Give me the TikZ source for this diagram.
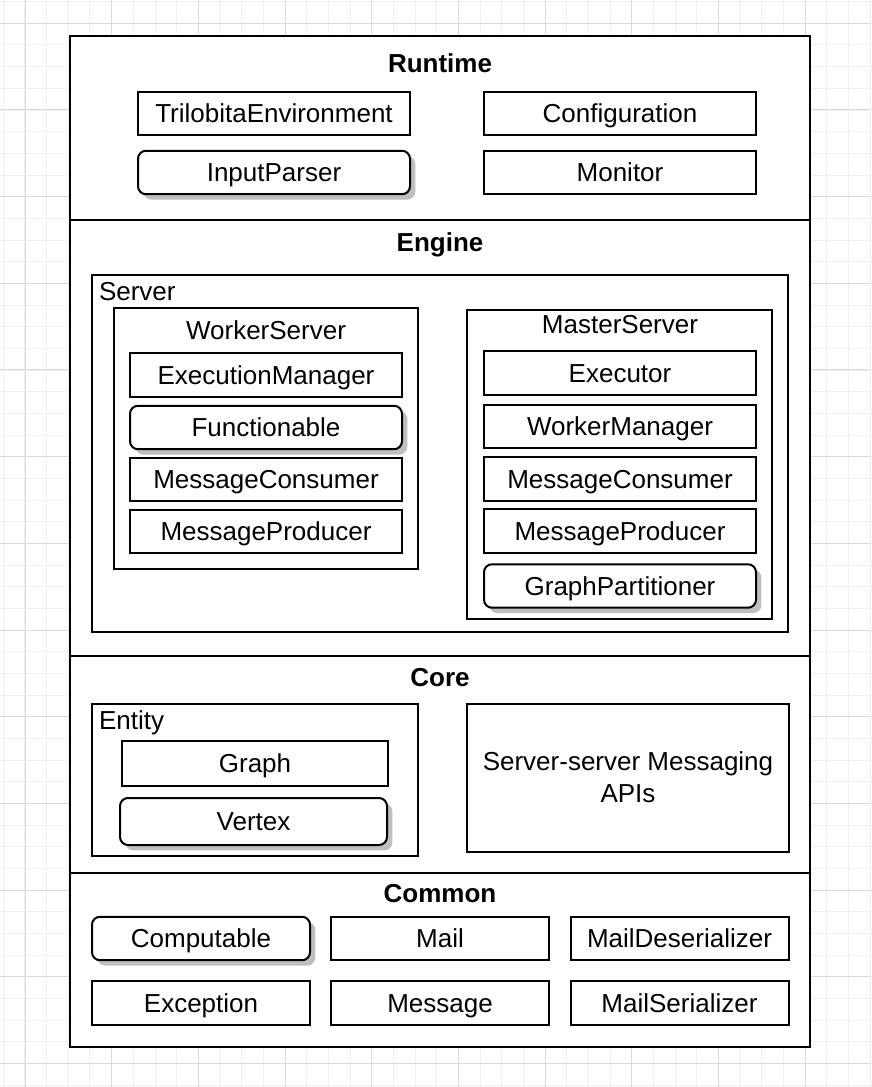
\documentclass[tikz,border=0pt]{standalone}
\usepackage{fontspec}
\setmainfont{Liberation Sans}
\usetikzlibrary{shadows}

\begin{document}
\begin{tikzpicture}[x=0.75pt, y=-0.75pt, line width=1.5pt,
    txt/.style={font=\fontsize{19.5}{23.8}\selectfont, text height=14pt, text depth=0pt, inner sep=0pt},
    title/.style={txt, font=\fontsize{19.5}{23.8}\selectfont\bfseries},
    cls/.style={txt, draw, fill=white, minimum width=204pt, minimum height=32.6pt},
    rcls/.style={cls, rounded corners=6pt, drop shadow={shadow xshift=4pt, shadow yshift=-4pt, fill=black!25, opacity=1}},
    short/.style={minimum width=163.5pt}]
                \useasboundingbox (0,0) rectangle (871,1087);
                \foreach \i in {0,...,40} \draw[black!6, line width=0.75pt] (3.33+21.667*\i,0) -- (3.33+21.667*\i,1087);
                \foreach \i in {0,...,50} \draw[black!6, line width=0.75pt] (0,1.67+21.667*\i) -- (871,1.67+21.667*\i);
                \foreach \i in {0,...,9} \draw[black!14, line width=0.75pt] (25+86.667*\i,0) -- (25+86.667*\i,1087);
                \foreach \i in {0,...,12} \draw[black!14, line width=0.75pt] (0,23.33+86.667*\i) -- (871,23.33+86.667*\i);
                \draw[fill=white] (70,36) rectangle (810,1047);
                \draw (70,220) -- (810,220) (70,656) -- (810,656) (70,873) -- (810,873);
                \node[title] (runtime) at (440,63) {Runtime};
                \node[cls] (trilobitaEnv) at (274,113.5) {TrilobitaEnvironment};
                \node[cls] (configuration) at (620,113.5) {Configuration};
                \node[rcls] (inputParser) at (274,172.5) {InputParser};
                \node[cls] (monitor) at (620,172.5) {Monitor};
                \node[title] (engine) at (440,242) {Engine};
                \draw (92,275) rectangle (788,632);
                \node[txt, anchor=west] (server) at (98,291) {Server};
                \draw (114,308) rectangle (418,569);
                \node[txt] (workerServer) at (266,330) {WorkerServer};
                \node[cls] (executionManager) at (266,375) {ExecutionManager};
                \node[rcls] (functionable) at (266,427.5) {Functionable};
                \node[cls] (workerConsumer) at (266,479.5) {MessageConsumer};
                \node[cls] (workerProducer) at (266,531.5) {MessageProducer};
                \draw (467,310) rectangle (772,619);
                \node[txt] (masterServer) at (620,324) {MasterServer};
                \node[cls] (executor) at (620,373) {Executor};
                \node[cls] (workerManager) at (620,426.5) {WorkerManager};
                \node[cls] (masterConsumer) at (620,479) {MessageConsumer};
                \node[cls] (masterProducer) at (620,531) {MessageProducer};
                \node[rcls] (graphPartitioner) at (620,586) {GraphPartitioner};
                \node[title] (core) at (440,677) {Core};
                \draw (92,704) rectangle (418,856);
                \node[txt, anchor=west] (entity) at (98,720) {Entity};
                \node[cls, minimum width=199.5pt, minimum height=33.75pt] (graph) at (255,763.5) {Graph};
                \node[rcls, minimum width=200.25pt, minimum height=35.25pt] (vertex) at (253.5,821.5) {Vertex};
                \node[draw, align=center, inner sep=0pt, font=\fontsize{19.5}{23.8}\selectfont, minimum width=241.5pt, minimum height=111pt] (messagingApis) at (628,777.5) {Server-server Messaging\\APIs};
                \node[title] (common) at (440,893) {Common};
                \node[rcls, short] (computable) at (201,938.5) {Computable};
                \node[cls, short] (mail) at (440,938.5) {Mail};
                \node[cls, short] (mailDeserializer) at (679.5,938.5) {MailDeserializer};
                \node[cls, short] (exception) at (201,1003) {Exception};
                \node[cls, short] (message) at (440,1003) {Message};
                \node[cls, short] (mailSerializer) at (679.5,1003) {MailSerializer};
            \end{tikzpicture}
\end{document}
